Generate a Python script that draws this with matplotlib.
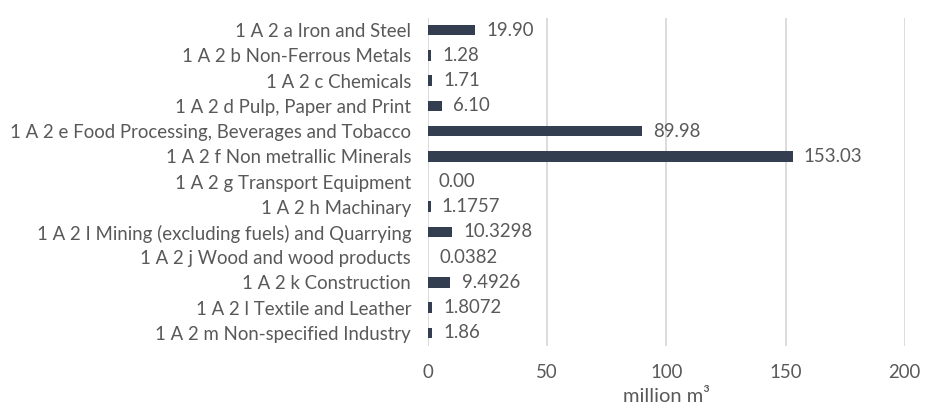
import matplotlib
matplotlib.use("Agg")
import matplotlib.pyplot as plt

categories = [
    "1 A 2 a Iron and Steel",
    "1 A 2 b Non-Ferrous Metals",
    "1 A 2 c Chemicals",
    "1 A 2 d Pulp, Paper and Print",
    "1 A 2 e Food Processing, Beverages and Tobacco",
    "1 A 2 f Non metrallic Minerals",
    "1 A 2 g Transport Equipment",
    "1 A 2 h Machinary",
    "1 A 2 I Mining (excluding fuels) and Quarrying",
    "1 A 2 j Wood and wood products",
    "1 A 2 k Construction",
    "1 A 2 l Textile and Leather",
    "1 A 2 m Non-specified Industry",
]
values = [19.90, 1.28, 1.71, 6.10, 89.98, 153.03, 0.00, 1.1757, 10.3298,
          0.0382, 9.4926, 1.8072, 1.86]
value_labels = ["19.90", "1.28", "1.71", "6.10", "89.98", "153.03", "0.00",
                "1.1757", "10.3298", "0.0382", "9.4926", "1.8072", "1.86"]
xticks = [0, 50, 100, 150, 200]

plt.rcParams['font.family'] = ['Lato', 'DejaVu Sans']
text_col = '#595959'
bar_col = '#333F50'
fs = 13.4

fig = plt.figure(figsize=(9.28, 4.07), dpi=100)
ax = fig.add_axes([0.461, 0.151, 0.514, 0.806])

ypos = list(range(len(categories)))
bars = ax.barh(ypos, values, height=0.42, color=bar_col, zorder=3)
for b, lab in zip(bars, value_labels):
    ax.annotate(lab, (b.get_width(), b.get_y() + b.get_height() / 2),
                xytext=(8, 0), textcoords='offset points', va='center',
                ha='left', fontsize=fs, color=text_col)

ax.set_yticks(ypos)
ax.set_yticklabels(categories)
ax.set_ylim(len(categories) - 0.5, -0.5)
ax.set_xlim(0, 200)
ax.set_xticks(xticks)
ax.xaxis.grid(True, color='#D9D9D9', linewidth=1.3, zorder=0)
ax.tick_params(axis='both', length=0, labelsize=fs, labelcolor=text_col)
ax.tick_params(axis='x', pad=13)
ax.tick_params(axis='y', pad=12)
for s in ax.spines.values():
    s.set_visible(False)
ax.set_xlabel("million m³", fontsize=14.5, color=text_col, labelpad=5)

fig.savefig("out.png", dpi=100)
